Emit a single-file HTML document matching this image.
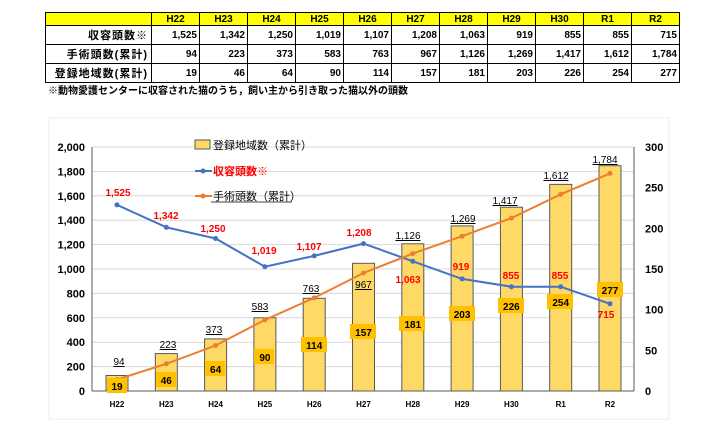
<!DOCTYPE html>
<html><head><meta charset="utf-8"><style>
body{margin:0;background:#fff;width:720px;height:437px;overflow:hidden;font-family:"Liberation Sans","Noto Sans CJK JP",sans-serif}
table{position:absolute;left:45px;top:12px;border-collapse:collapse;font-size:10px;font-weight:bold}
td{border:1px solid #000;height:18px;padding:0 2px;text-align:right;width:43px}
tr:first-child td{background:#ffff00;text-align:center;height:12px}
td.l{width:100px;text-align:right;padding-right:3px;font-size:11px;letter-spacing:1px}
tr:first-child td.l{background:#ffff00}
.note{position:absolute;left:48px;top:82px;font-size:10px;font-weight:bold}
</style></head><body>
<table>
<tr><td class="l"></td><td>H22</td><td>H23</td><td>H24</td><td>H25</td><td>H26</td><td>H27</td><td>H28</td><td>H29</td><td>H30</td><td>R1</td><td>R2</td></tr>
<tr><td class="l">収容頭数※</td><td>1,525</td><td>1,342</td><td>1,250</td><td>1,019</td><td>1,107</td><td>1,208</td><td>1,063</td><td>919</td><td>855</td><td>855</td><td>715</td></tr>
<tr><td class="l">手術頭数(累計)</td><td>94</td><td>223</td><td>373</td><td>583</td><td>763</td><td>967</td><td>1,126</td><td>1,269</td><td>1,417</td><td>1,612</td><td>1,784</td></tr>
<tr><td class="l">登録地域数(累計)</td><td>19</td><td>46</td><td>64</td><td>90</td><td>114</td><td>157</td><td>181</td><td>203</td><td>226</td><td>254</td><td>277</td></tr>
</table>
<div class="note">※動物愛護センターに収容された猫のうち，飼い主から引き取った猫以外の頭数</div>
<svg style="position:absolute;left:0;top:0" width="720" height="437" font-family="Liberation Sans, Noto Sans CJK JP, sans-serif">
<rect x="49" y="118" width="620" height="301" fill="none" stroke="#ececec"/>
<g stroke="#d9d9d9" stroke-width="1">
<line x1="92" x2="634" y1="147" y2="147"/><line x1="92" x2="634" y1="171.4" y2="171.4"/><line x1="92" x2="634" y1="195.8" y2="195.8"/><line x1="92" x2="634" y1="220.2" y2="220.2"/><line x1="92" x2="634" y1="244.6" y2="244.6"/><line x1="92" x2="634" y1="269" y2="269"/><line x1="92" x2="634" y1="293.4" y2="293.4"/><line x1="92" x2="634" y1="317.8" y2="317.8"/><line x1="92" x2="634" y1="342.2" y2="342.2"/><line x1="92" x2="634" y1="366.6" y2="366.6"/>
</g>
<g fill="#ffd966" stroke="#595959" stroke-width="1">
<rect x="106" y="375.5" width="22" height="15.5"/><rect x="155.3" y="353.6" width="22" height="37.4"/><rect x="204.6" y="338.9" width="22" height="52.1"/><rect x="253.9" y="317.8" width="22" height="73.2"/><rect x="303.2" y="298.3" width="22" height="92.7"/><rect x="352.5" y="263.3" width="22" height="127.7"/><rect x="401.8" y="243.8" width="22" height="147.2"/><rect x="451.1" y="225.9" width="22" height="165.1"/><rect x="500.4" y="207.2" width="22" height="183.8"/><rect x="549.7" y="184.4" width="22" height="206.6"/><rect x="599" y="165.7" width="22" height="225.3"/>
</g>
<line x1="92" y1="147" x2="92" y2="391" stroke="#595959"/><line x1="634" y1="147" x2="634" y2="391" stroke="#595959"/><line x1="92" y1="391" x2="634" y2="391" stroke="#595959"/>
<polyline fill="none" stroke="#4472c4" stroke-width="2" points="117,204.9 166.3,227.3 215.6,238.5 264.9,266.7 314.2,255.9 363.5,243.6 412.8,261.3 462.1,278.9 511.4,286.7 560.7,286.7 610,303.8"/>
<g fill="#4472c4"><circle cx="117" cy="204.9" r="2.5"/><circle cx="166.3" cy="227.3" r="2.5"/><circle cx="215.6" cy="238.5" r="2.5"/><circle cx="264.9" cy="266.7" r="2.5"/><circle cx="314.2" cy="255.9" r="2.5"/><circle cx="363.5" cy="243.6" r="2.5"/><circle cx="412.8" cy="261.3" r="2.5"/><circle cx="462.1" cy="278.9" r="2.5"/><circle cx="511.4" cy="286.7" r="2.5"/><circle cx="560.7" cy="286.7" r="2.5"/><circle cx="610" cy="303.8" r="2.5"/></g>
<polyline fill="none" stroke="#ed7d31" stroke-width="2" points="117,379.5 166.3,363.8 215.6,345.5 264.9,319.9 314.2,297.9 363.5,273 412.8,253.6 462.1,236.2 511.4,218.1 560.7,194.3 610,173.4"/>
<g fill="#ed7d31"><circle cx="117" cy="379.5" r="2.5"/><circle cx="166.3" cy="363.8" r="2.5"/><circle cx="215.6" cy="345.5" r="2.5"/><circle cx="264.9" cy="319.9" r="2.5"/><circle cx="314.2" cy="297.9" r="2.5"/><circle cx="363.5" cy="273" r="2.5"/><circle cx="412.8" cy="253.6" r="2.5"/><circle cx="462.1" cy="236.2" r="2.5"/><circle cx="511.4" cy="218.1" r="2.5"/><circle cx="560.7" cy="194.3" r="2.5"/><circle cx="610" cy="173.4" r="2.5"/></g>
<g font-size="11" font-weight="bold" text-anchor="end" fill="#000">
<text x="85" y="151">2,000</text><text x="85" y="175.4">1,800</text><text x="85" y="199.8">1,600</text><text x="85" y="224.2">1,400</text><text x="85" y="248.6">1,200</text><text x="85" y="273">1,000</text><text x="85" y="297.4">800</text><text x="85" y="321.8">600</text><text x="85" y="346.2">400</text><text x="85" y="370.6">200</text><text x="85" y="395">0</text>
</g>
<g font-size="11" font-weight="bold" text-anchor="start" fill="#000">
<text x="645" y="151">300</text><text x="645" y="191.7">250</text><text x="645" y="232.3">200</text><text x="645" y="273">150</text><text x="645" y="313.7">100</text><text x="645" y="354.3">50</text><text x="645" y="395">0</text>
</g>
<g font-size="8" font-weight="bold" text-anchor="middle">
<text x="117" y="407">H22</text><text x="166.3" y="407">H23</text><text x="215.6" y="407">H24</text><text x="264.9" y="407">H25</text><text x="314.2" y="407">H26</text><text x="363.5" y="407">H27</text><text x="412.8" y="407">H28</text><text x="462.1" y="407">H29</text><text x="511.4" y="407">H30</text><text x="560.7" y="407">R1</text><text x="610" y="407">R2</text>
</g>
<g fill="#ffc000">
<rect x="107" y="378" width="20" height="15"/><rect x="156" y="372" width="20" height="15"/><rect x="205" y="361" width="20" height="15"/><rect x="254" y="349" width="20" height="15"/><rect x="301" y="337" width="26" height="15"/><rect x="350" y="324" width="26" height="15"/><rect x="399" y="316" width="26" height="15"/><rect x="449" y="306" width="26" height="15"/><rect x="498" y="298" width="26" height="15"/><rect x="547" y="294" width="26" height="15"/><rect x="597" y="282" width="26" height="15"/>
</g>
<g font-size="10" font-weight="bold" text-anchor="middle" fill="#000">
<text x="117" y="390">19</text><text x="166.3" y="384">46</text><text x="215.6" y="373">64</text><text x="264.9" y="361">90</text><text x="314.2" y="349">114</text><text x="363.5" y="336">157</text><text x="412.8" y="328">181</text><text x="462.1" y="318">203</text><text x="511.4" y="310">226</text><text x="560.7" y="306">254</text><text x="610" y="294">277</text>
</g>
<g font-size="10" text-anchor="middle" fill="#000" text-decoration="underline">
<text x="119" y="365">94</text><text x="168" y="348">223</text><text x="214" y="333">373</text><text x="260" y="310">583</text><text x="311" y="292">763</text><text x="363.5" y="288">967</text><text x="408" y="239">1,126</text><text x="463" y="222">1,269</text><text x="505" y="204">1,417</text><text x="556" y="179">1,612</text><text x="605" y="163">1,784</text>
</g>
<g font-size="10" font-weight="bold" text-anchor="middle" fill="#ff0000">
<text x="118" y="196">1,525</text><text x="166" y="219">1,342</text><text x="213" y="232">1,250</text><text x="264" y="254">1,019</text><text x="309" y="250">1,107</text><text x="359" y="236">1,208</text><text x="408" y="283">1,063</text><text x="461" y="270">919</text><text x="511" y="279">855</text><text x="560" y="279">855</text><text x="606" y="318">715</text>
</g>
<rect x="195" y="140" width="15" height="9" fill="#ffd966" stroke="#595959"/>
<text x="213" y="149" font-size="11">登録地域数（累計）</text>
<line x1="195" y1="171" x2="212" y2="171" stroke="#4472c4" stroke-width="2"/><circle cx="203" cy="171" r="2.5" fill="#4472c4"/>
<text x="213" y="175" font-size="11" font-weight="bold" fill="#ff0000">収容頭数※</text>
<line x1="195" y1="196" x2="212" y2="196" stroke="#ed7d31" stroke-width="2"/><circle cx="203" cy="196" r="2.5" fill="#ed7d31"/>
<text x="213" y="200" font-size="11">手術頭数（累計）</text>
<line x1="211" y1="202" x2="292" y2="202" stroke="#000" stroke-width="0.8"/>
</svg>
</body></html>
